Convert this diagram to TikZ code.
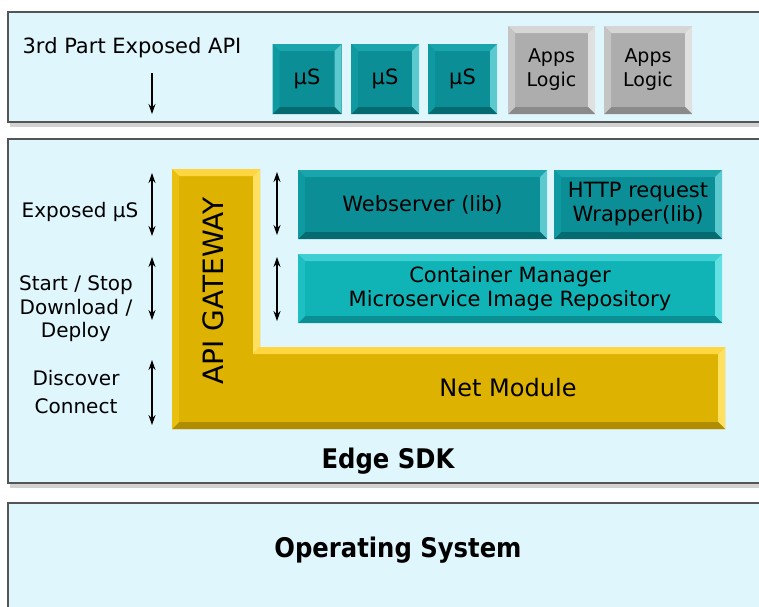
\documentclass[tikz,border=0pt]{standalone}
\usepackage{fontspec}
\setmainfont{DejaVu Sans}
\newfontfamily\condfont{DejaVu Sans Condensed}
\usetikzlibrary{arrows.meta,shadows}
\definecolor{panelbg}{HTML}{E0F6FD}
\definecolor{panelbd}{HTML}{555555}
\definecolor{usface}{HTML}{0B8E96}
\definecolor{ustop}{HTML}{1AA5AC}
\definecolor{usright}{HTML}{5BC9CE}
\definecolor{usbot}{HTML}{066A71}
\definecolor{usleft}{HTML}{0F9AA2}
\definecolor{cmface}{HTML}{10B4B7}
\definecolor{cmtop}{HTML}{3ECFD2}
\definecolor{cmright}{HTML}{62E0E2}
\definecolor{cmbot}{HTML}{0A8F94}
\definecolor{cmleft}{HTML}{1EBFC2}
\definecolor{apface}{HTML}{ADADAD}
\definecolor{aptop}{HTML}{D6D6D6}
\definecolor{apright}{HTML}{E0E0E0}
\definecolor{apbot}{HTML}{8A8A8A}
\definecolor{apleft}{HTML}{C4C4C4}
\definecolor{gdface}{HTML}{DDB200}
\definecolor{gdtop}{HTML}{FFD640}
\definecolor{gdright}{HTML}{FFE060}
\definecolor{gdbot}{HTML}{B08C00}
\definecolor{gdleft}{HTML}{E9C010}
\def\bw{7pt}
\newcommand\bevelfill[4]{%
  \fill[#1] (path picture bounding box.north west) -- (path picture bounding box.north east)
    -- ([shift={(-\bw,-\bw)}]path picture bounding box.north east)
    -- ([shift={(\bw,-\bw)}]path picture bounding box.north west) -- cycle;
  \fill[#2] (path picture bounding box.north east) -- (path picture bounding box.south east)
    -- ([shift={(-\bw,\bw)}]path picture bounding box.south east)
    -- ([shift={(-\bw,-\bw)}]path picture bounding box.north east) -- cycle;
  \fill[#3] (path picture bounding box.south east) -- (path picture bounding box.south west)
    -- ([shift={(\bw,\bw)}]path picture bounding box.south west)
    -- ([shift={(-\bw,\bw)}]path picture bounding box.south east) -- cycle;
  \fill[#4] (path picture bounding box.south west) -- (path picture bounding box.north west)
    -- ([shift={(\bw,-\bw)}]path picture bounding box.north west)
    -- ([shift={(\bw,\bw)}]path picture bounding box.south west) -- cycle;
}
\tikzset{
  bev/.style n args={5}{fill=#1, path picture={\bevelfill{#2}{#3}{#4}{#5}}, inner sep=0pt, align=center, text=black},
  usbox/.style={bev={usface}{ustop}{usright}{usbot}{usleft}, minimum height=70pt, font=\fontsize{21}{25}\selectfont},
  wsbox/.style={bev={usface}{ustop}{usright}{usbot}{usleft}, minimum height=69pt, font=\fontsize{21}{24}\selectfont},
  cmbox/.style={bev={cmface}{cmtop}{cmright}{cmbot}{cmleft}, minimum height=69pt, font=\fontsize{21}{24}\selectfont},
  apbox/.style={bev={apface}{aptop}{apright}{apbot}{apleft}, minimum height=88pt, font=\fontsize{19}{24}\selectfont},
  panel/.style={fill=panelbg, draw=panelbd, line width=1.3pt, drop shadow={opacity=0.35, shadow xshift=2pt, shadow yshift=-5pt}},
  lbl/.style={font=\fontsize{20}{23}\selectfont, align=center, inner sep=0pt},
  big/.style={font=\fontsize{27}{32}\condfont\bfseries, inner sep=0pt},
  tip/.tip={Stealth[length=10pt,width=7pt]},
  arr/.style={-tip, line width=1.1pt},
  darr/.style={tip-tip, line width=1.1pt},
}
\begin{document}
\begin{tikzpicture}[x=1pt,y=-1pt]
\useasboundingbox (0,0) rectangle (759,606);
\fill[white] (0,0) rectangle (759,606);
% panels
\path[panel] (8,12) rectangle (775,122);
\path[panel] (8,139) rectangle (775,483);
\path[panel] (8,503) rectangle (775,640);

% top panel
\node[lbl, font=\fontsize{21}{25}\selectfont] (api3) at (132,48) {3rd Part Exposed API};
\coordinate (t1) at (152,73);
\coordinate (t2) at (152,114);
\draw[arr] (t1) -- (t2);
\node[usbox, minimum width=69pt] (us1) at (307,79) {µS};
\node[usbox, minimum width=68pt] (us2) at (385,79) {µS};
\node[usbox, minimum width=69pt] (us3) at (462.5,79) {µS};
\node[apbox, minimum width=87pt] (ap1) at (551.5,70) {Apps\\Logic};
\node[apbox, minimum width=88pt] (ap2) at (648,70) {Apps\\Logic};

% API gateway L shape
\coordinate (LA) at (172,169);
\coordinate (LB) at (260,169);
\coordinate (LC) at (260,347);
\coordinate (LD) at (725,347);
\coordinate (LE) at (725,429);
\coordinate (LF) at (172,429);
\coordinate (la) at (179,176);
\coordinate (lb) at (253,176);
\coordinate (lc) at (253,354);
\coordinate (ld) at (718,354);
\coordinate (le) at (718,422);
\coordinate (lf) at (179,422);
\fill[gdface] (LA) -- (LB) -- (LC) -- (LD) -- (LE) -- (LF) -- cycle;
\fill[gdtop] (LA) -- (LB) -- (lb) -- (la) -- cycle;
\fill[gdright] (LB) -- (LC) -- (lc) -- (lb) -- cycle;
\fill[gdtop] (LC) -- (LD) -- (ld) -- (lc) -- cycle;
\fill[gdright] (LD) -- (LE) -- (le) -- (ld) -- cycle;
\fill[gdbot] (LE) -- (LF) -- (lf) -- (le) -- cycle;
\fill[gdleft] (LF) -- (LA) -- (la) -- (lf) -- cycle;
\node[rotate=90, font=\fontsize{28}{32}\selectfont, inner sep=0pt] (apigw) at (213,291) {API GATEWAY};
\node[font=\fontsize{24}{28}\selectfont, inner sep=0pt] (net) at (508,388) {Net Module};

% middle boxes
\node[wsbox, minimum width=249pt] (web) at (422.5,204.5) {Webserver (lib)};
\node[wsbox, minimum width=168pt] (http) at (638,204.5) {HTTP request\\Wrapper(lib)};
\node[cmbox, minimum width=424pt] (cm) at (510,288.5) {Container Manager\\Microservice Image Repository};

% arrows middle
\coordinate (m1a) at (277,172); \coordinate (m1b) at (277,235);
\coordinate (m2a) at (277,257); \coordinate (m2b) at (277,321);
\draw[darr] (m1a) -- (m1b);
\draw[darr] (m2a) -- (m2b);
\coordinate (l1a) at (152,173); \coordinate (l1b) at (152,236);
\coordinate (l2a) at (152,257); \coordinate (l2b) at (152,320);
\coordinate (l3a) at (152,360); \coordinate (l3b) at (152,425);
\draw[darr] (l1a) -- (l1b);
\draw[darr] (l2a) -- (l2b);
\draw[darr] (l3a) -- (l3b);

\node[lbl] (exp) at (80,212) {Exposed µS};
\node[lbl, font=\fontsize{20}{23.5}\selectfont] (start) at (76,309) {Start / Stop\\Download /\\Deploy};
\node[lbl, font=\fontsize{20}{27.5}\selectfont] (disc) at (76,392) {Discover\\Connect};

\node[big] (edge) at (388,461) {Edge SDK};
\node[big] (os) at (398,550) {Operating System};
\end{tikzpicture}
\end{document}
